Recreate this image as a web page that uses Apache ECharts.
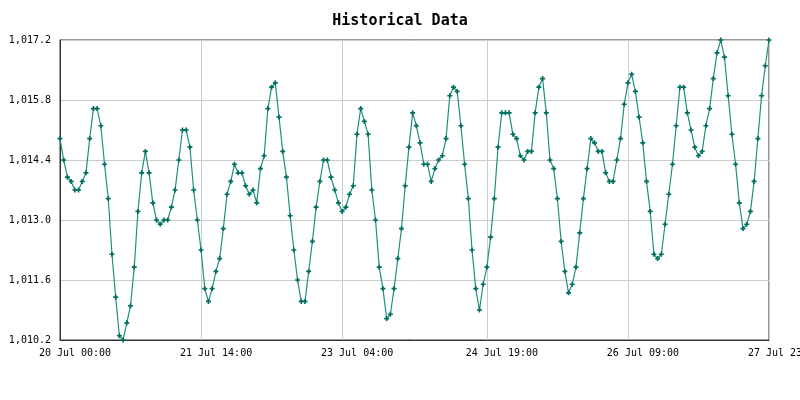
<!DOCTYPE html>
<html>
<head>
<meta charset="utf-8">
<title>Historical Data</title>
<script src="https://cdn.jsdelivr.net/npm/echarts@6/dist/echarts.min.js"></script>
<style>
  html, body { margin: 0; padding: 0; background: #fff; }
  #chart { width: 800px; height: 400px; }
</style>
</head>
<body>
<div id="chart"></div>
<script>
const MONTHS = ['Jan', 'Feb', 'Mar', 'Apr', 'May', 'Jun', 'Jul', 'Aug', 'Sep', 'Oct', 'Nov', 'Dec'];

// hourly readings, 20 Jul 00:00 .. 27 Jul 23:00
const startDay = 20;
const startMonth = 6; // July
const hourCount = 192;

const pressure = [
  1014.9, 1014.4, 1014.0, 1013.9, 1013.7, 1013.7, 1013.9, 1014.1, 1014.9, 1015.6,
  1015.6, 1015.2, 1014.3, 1013.5, 1012.2, 1011.2, 1010.3, 1010.2, 1010.6, 1011.0,
  1011.9, 1013.2, 1014.1, 1014.6, 1014.1, 1013.4, 1013.0, 1012.9, 1013.0, 1013.0,
  1013.3, 1013.7, 1014.4, 1015.1, 1015.1, 1014.7, 1013.7, 1013.0, 1012.3, 1011.4,
  1011.1, 1011.4, 1011.8, 1012.1, 1012.8, 1013.6, 1013.9, 1014.3, 1014.1, 1014.1,
  1013.8, 1013.6, 1013.7, 1013.4, 1014.2, 1014.5, 1015.6, 1016.1, 1016.2, 1015.4,
  1014.6, 1014.0, 1013.1,
  1012.3, 1011.6, 1011.1, 1011.1, 1011.8, 1012.5, 1013.3, 1013.9, 1014.4, 1014.4,
  1014.0, 1013.7, 1013.4, 1013.2, 1013.3, 1013.6, 1013.8, 1015.0, 1015.6, 1015.3,
  1015.0, 1013.7, 1013.0, 1011.9, 1011.4, 1010.7, 1010.8, 1011.4, 1012.1, 1012.8,
  1013.8, 1014.7,
  1015.5, 1015.2, 1014.8, 1014.3, 1014.3, 1013.9, 1014.2, 1014.4, 1014.5, 1014.9,
  1015.9, 1016.1, 1016.0, 1015.2, 1014.3, 1013.5, 1012.3, 1011.4, 1010.9, 1011.5,
  1011.9, 1012.6, 1013.5, 1014.7, 1015.5, 1015.5, 1015.5, 1015.0, 1014.9, 1014.5,
  1014.4, 1014.6,
  1014.6, 1015.5, 1016.1, 1016.3, 1015.5, 1014.4, 1014.2, 1013.5, 1012.5, 1011.8,
  1011.3, 1011.5, 1011.9, 1012.7, 1013.5, 1014.2, 1014.9, 1014.8, 1014.6, 1014.6,
  1014.1, 1013.9, 1013.9, 1014.4, 1014.9, 1015.7, 1016.2, 1016.4, 1016.0, 1015.4,
  1014.8, 1013.9,
  1013.2, 1012.2, 1012.1, 1012.2, 1012.9, 1013.6, 1014.3, 1015.2, 1016.1, 1016.1,
  1015.5, 1015.1, 1014.7, 1014.5, 1014.6, 1015.2, 1015.6, 1016.3, 1016.9, 1017.2,
  1016.8, 1015.9, 1015.0, 1014.3, 1013.4, 1012.8, 1012.9, 1013.2, 1013.9, 1014.9,
  1015.9, 1016.6, 1017.2
];

// x ticks sit on these hour indexes (first, last and four evenly spread)
const tickHours = [0, 38, 76, 115, 153, 191];

const yMin = 1010.2;
const yMax = 1017.2;
const yStep = 1.4;

const pad = (n) => String(n).padStart(2, '0');

const categories = [];
for (let h = 0; h < hourCount; h++) {
  const day = startDay + Math.floor(h / 24);
  categories.push(`${day} ${MONTHS[startMonth]} ${pad(h % 24)}:00`);
}

const showTick = (index) => tickHours.includes(index);

const font = '"DejaVu Sans Mono", "Liberation Mono", monospace';

const chart = echarts.init(document.getElementById('chart'), null, { renderer: 'canvas' });
chart.setOption({
  animation: false,
  backgroundColor: '#fff',
  title: {
    text: 'Historical Data',
    left: 'center',
    top: 9,
    textStyle: {
      fontFamily: font,
      fontSize: 15,
      fontWeight: 'bold',
      color: '#000',
    },
  },
  grid: {
    left: 60,
    right: 31,
    top: 40,
    bottom: 60,
    outerBoundsMode: 'none',
    containLabel: false,
    show: true,
    borderColor: '#333',
    borderWidth: 1,
  },
  xAxis: {
    type: 'category',
    data: categories,
    boundaryGap: false,
    axisLine: { show: true, lineStyle: { color: '#333' } },
    axisTick: { show: false },
    axisLabel: {
      interval: showTick,
      fontFamily: font,
      fontSize: 10,
      color: '#000',
      margin: 8,
      // labels in the original sit a little right of their grid line
      padding: [0, 0, 0, 30],
      hideOverlap: false,
      showMaxLabel: true,
    },
    splitLine: {
      show: true,
      interval: showTick,
      lineStyle: { color: '#ccc', width: 1 },
    },
  },
  yAxis: {
    type: 'value',
    min: yMin,
    max: yMax,
    interval: yStep,
    axisLine: { show: true, lineStyle: { color: '#333' } },
    axisTick: { show: false },
    axisLabel: {
      fontFamily: font,
      fontSize: 10,
      color: '#000',
      margin: 9,
      formatter: (v) => v.toLocaleString('en-US', { minimumFractionDigits: 1, maximumFractionDigits: 1 }),
    },
    splitLine: { show: true, lineStyle: { color: '#ccc', width: 1 } },
  },
  series: [
    {
      name: 'Pressure',
      type: 'line',
      data: pressure,
      symbol: 'path://M2,0H4V2H6V4H4V6H2V4H0V2H2Z',
      symbolSize: 5,
      showAllSymbol: true,
      itemStyle: { color: '#006f5f' },
      lineStyle: { color: '#1f8f80', width: 1.2 },
    },
  ],
});
</script>
</body>
</html>
